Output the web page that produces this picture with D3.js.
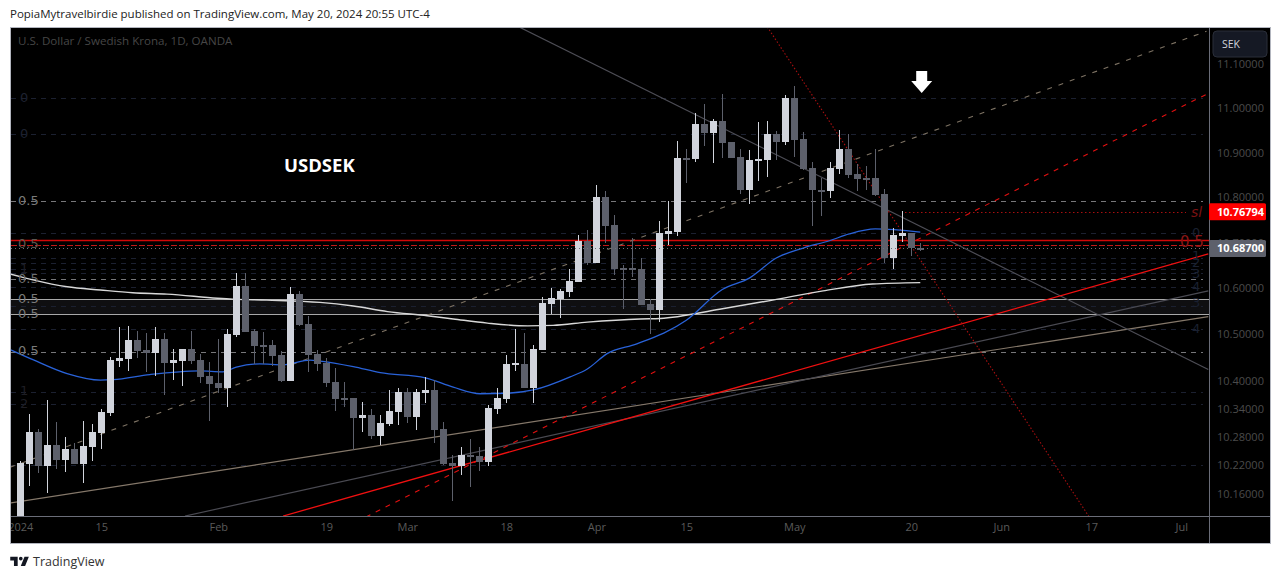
<!DOCTYPE html>
<html>
<head>
<meta charset="utf-8">
<script src="https://cdn.jsdelivr.net/npm/d3@7"></script>
<style>
  html, body { margin: 0; padding: 0; background: #fff; overflow: hidden; }
  svg { display: block; }
  text { font-family: "DejaVu Sans", sans-serif; }
</style>
</head>
<body>
<svg id="viz" width="1281" height="579"></svg>
<script>
// USD/SEK daily candles. index 0 = 2 Jan 2024
const opens = [10.104,10.223,10.291,10.219,10.263,10.232,10.255,10.223,10.259,10.289,10.331,10.442,10.447,10.488,10.466,10.460,10.490,10.438,10.442,10.468,10.445,10.410,10.396,10.385,10.498,10.605,10.507,10.477,10.477,10.455,10.400,10.587,10.522,10.457,10.438,10.398,10.363,10.363,10.321,10.327,10.282,10.308,10.333,10.376,10.323,10.374,10.380,10.297,10.225,10.219,10.242,10.240,10.227,10.340,10.361,10.436,10.436,10.385,10.466,10.566,10.576,10.592,10.614,10.703,10.655,10.801,10.739,10.644,10.644,10.642,10.566,10.553,10.719,10.723,10.888,10.886,10.965,10.944,10.972,10.924,10.890,10.817,10.885,10.884,10.942,10.924,11.023,10.931,10.866,10.817,10.814,10.864,10.908,10.852,10.844,10.844,10.808,10.666,10.714,10.721,10.688];
const highs = [10.230,10.329,10.297,10.359,10.312,10.280,10.268,10.314,10.308,10.340,10.451,10.516,10.518,10.507,10.503,10.516,10.503,10.468,10.468,10.507,10.457,10.440,10.490,10.511,10.633,10.633,10.511,10.505,10.488,10.464,10.603,10.594,10.540,10.466,10.449,10.427,10.398,10.363,10.355,10.340,10.327,10.380,10.385,10.385,10.382,10.408,10.402,10.312,10.242,10.259,10.276,10.259,10.348,10.385,10.455,10.511,10.503,10.477,10.581,10.601,10.598,10.642,10.717,10.728,10.828,10.814,10.761,10.651,10.710,10.666,10.576,10.748,10.792,10.926,10.908,10.990,11.010,10.976,11.032,10.924,10.908,10.906,10.969,10.972,10.949,11.030,11.051,10.947,10.879,10.844,10.879,10.951,10.942,10.875,10.870,10.908,10.819,10.732,10.770,10.721,10.699];
const lows = [10.100,10.177,10.204,10.162,10.213,10.207,10.223,10.183,10.230,10.255,10.325,10.430,10.421,10.449,10.419,10.410,10.370,10.402,10.389,10.436,10.396,10.314,10.374,10.344,10.494,10.505,10.436,10.436,10.432,10.398,10.400,10.518,10.419,10.421,10.387,10.335,10.344,10.253,10.291,10.276,10.263,10.304,10.306,10.310,10.295,10.352,10.268,10.221,10.146,10.200,10.175,10.209,10.219,10.329,10.352,10.421,10.385,10.352,10.466,10.544,10.535,10.581,10.614,10.651,10.655,10.699,10.629,10.555,10.625,10.563,10.500,10.527,10.695,10.714,10.832,10.879,10.915,10.877,10.888,10.888,10.808,10.785,10.837,10.846,10.884,10.917,10.890,10.861,10.737,10.759,10.799,10.852,10.844,10.814,10.817,10.803,10.655,10.642,10.701,10.671,10.682];
const closes = [10.225,10.291,10.219,10.263,10.232,10.255,10.223,10.261,10.291,10.333,10.445,10.449,10.488,10.464,10.460,10.490,10.438,10.445,10.468,10.442,10.408,10.393,10.385,10.500,10.605,10.505,10.475,10.476,10.453,10.400,10.587,10.520,10.455,10.436,10.396,10.361,10.362,10.321,10.327,10.282,10.310,10.335,10.376,10.323,10.376,10.380,10.295,10.223,10.219,10.242,10.241,10.227,10.342,10.363,10.436,10.437,10.385,10.468,10.568,10.579,10.594,10.616,10.703,10.655,10.801,10.737,10.642,10.643,10.643,10.563,10.553,10.721,10.726,10.888,10.887,10.965,10.944,10.972,10.922,10.888,10.817,10.884,10.886,10.942,10.924,11.023,10.929,10.864,10.817,10.816,10.866,10.908,10.850,10.842,10.843,10.805,10.666,10.717,10.721,10.688,10.687];

// moving averages, sampled at candle index
const maSlowIdx = [-1.15,1.4,5.2,8.9,12.5,16.3,21.9,23.6,27.4,33.3,37,40.8,45.2,48.1,51.9,56.4,59.2,63,68.9,71.1,77.7,83.6,89.2,94.7,100];
const maSlowVal = [10.631,10.618,10.603,10.596,10.590,10.587,10.578,10.576,10.574,10.569,10.561,10.549,10.540,10.533,10.524,10.518,10.519,10.526,10.533,10.534,10.554,10.574,10.594,10.609,10.612];
const maFastIdx = [-1.15,1.4,5.2,8.9,10.3,14.4,19.9,22.5,24,26.6,29.2,32.2,33.3,37,40,45,48.1,51.1,54.1,57,61.1,63,65.2,68.5,74,78,81,84,87,89.9,92.1,95,100];
const maFastVal = [10.467,10.445,10.415,10.401,10.402,10.413,10.421,10.419,10.429,10.436,10.434,10.444,10.442,10.430,10.417,10.406,10.386,10.372,10.373,10.380,10.408,10.425,10.458,10.479,10.530,10.597,10.622,10.666,10.688,10.704,10.719,10.730,10.723];

// trend lines: candle index and price at both ends
const trendTan = [[-1.15,10.216],[131.8,11.176]];
const trendTanSolid = [[-1.15,10.141],[132,10.538]];
const trendGray = [[18.3,10.114],[132,10.594]];
const trendRed = [[29.2,10.114],[132,10.675]];
const trendRedDash = [[38.4,10.112],[132,11.034]];
const trendDown = [[55.4,11.186],[132,10.424]];
const trendSteep = [[83,11.186],[118.7,10.114]];

// horizontal levels
const levelsDark = [11.023,10.942,10.721,10.666,10.655,10.642,10.633,10.603,10.561,10.511,10.376,10.350,10.221];
const levelsGray = [10.792,10.620,10.462];
const levelsBand = [10.576,10.543];
const levelRed = 10.705;
const levelRedDash = 10.695;
const lastPrice = 10.687;
const stopPrice = 10.76794;

const priceTicks = [11.1,11.0,10.9,10.8,10.7,10.6,10.5,10.4,10.34,10.28,10.22,10.16];
const dateTicks = [[0,"2024"],[9,"15"],[22,"Feb"],[34,"19"],[43,"Mar"],[54,"18"],[64,"Apr"],[74,"15"],[86,"May"],[99,"20"],[109,"Jun"],[119,"17"],[129,"Jul"]];
const leftLabels = [[11.025,"0","#1e2230"],[10.944,"0","#1e2230"],[10.794,"0.5","#7a7a7a"],[10.697,"0.5","#5c5850"],[10.644,"1","#1e1e24"],[10.622,"0.5","#6e6e6e"],[10.578,"0.5","#7a7a7a"],[10.545,"0.5","#7a7a7a"],[10.464,"0.5","#7a7a7a"],[10.378,"1","#1e1e24"],[10.352,"2","#1e1e24"]];
const rightLabels = [[10.722,"0"],[10.672,"1"],[10.657,"2"],[10.631,"3"],[10.603,"4"],[10.568,"3"],[10.513,"4"]];

const svg = d3.select("#viz");
const pane = { left: 11, right: 1209, top: 28, bottom: 516 };

const x = d3.scaleLinear().domain([0, 129]).range([20.3, 1181.3]);
const y = d3.scaleLog().domain([11, 10.16]).range([108.3, 494]);

const UP = "#d1d4dc", DOWN = "#5d606b";

// page header and frame
svg.append("text").attr("x", 10).attr("y", 18).attr("font-size", 11.5).attr("fill", "#222")
  .style("font-family", "'Open Sans', sans-serif")
  .text("PopiaMytravelbirdie published on TradingView.com, May 20, 2024 20:55 UTC-4");
svg.append("rect").attr("x", 10.5).attr("y", 27.5).attr("width", 1260).attr("height", 516)
  .attr("fill", "#000").attr("stroke", "#b2b5be");

const defs = svg.append("defs");
defs.append("clipPath").attr("id", "paneClip").append("rect")
  .attr("x", pane.left).attr("y", pane.top)
  .attr("width", pane.right - pane.left).attr("height", pane.bottom - pane.top);

const chart = svg.append("g").attr("clip-path", "url(#paneClip)");

// band between the two white levels
chart.append("rect").attr("x", pane.left).attr("width", pane.right - pane.left)
  .attr("y", y(levelsBand[0])).attr("height", y(levelsBand[1]) - y(levelsBand[0]))
  .attr("fill", "#0f0f11");

function hline(price, color, dash, x0, x1, w) {
  chart.append("line").attr("x1", x0).attr("x2", x1)
    .attr("y1", Math.round(y(price)) + 0.5).attr("y2", Math.round(y(price)) + 0.5)
    .attr("stroke", color).attr("stroke-width", w || 1)
    .attr("stroke-dasharray", dash);
}
levelsDark.forEach(p => hline(p, "#1b2030", "5 5", 11, 1203));
levelsGray.forEach(p => hline(p, "#77777a", "5 5", 11, 1203));
levelsBand.forEach(p => hline(p, "#a8a8a8", null, 11, 1209));
hline(levelRed, "#d00808", null, 11, 1209, 1.3);
hline(levelRedDash, "#c01818", "6 2", 11, 1209, 1.2);

// trend lines
const tl = d3.line().x(d => x(d[0])).y(d => y(d[1]));
function trend(pts, color, w, dash) {
  chart.append("path").attr("d", tl(pts)).attr("fill", "none")
    .attr("stroke", color).attr("stroke-width", w).attr("stroke-dasharray", dash);
}
trend(trendTanSolid, "#85786a", 1.2);
trend(trendGray, "#4a4a52", 1.2);
trend(trendDown, "#4d4d55", 1.2);
trend(trendTan, "#7d7263", 1.1, "5 7");
trend(trendRedDash, "#e01010", 1.1, "5 6");
trend(trendRed, "#f01010", 1.3);
trend(trendSteep, "#a80f0f", 1.1, "1.5 2");

// stop line
chart.append("line").attr("x1", 905).attr("x2", 1186)
  .attr("y1", Math.round(y(stopPrice)) + 0.5).attr("y2", Math.round(y(stopPrice)) + 0.5)
  .attr("stroke", "#a80f0f").attr("stroke-dasharray", "1.5 2.5");

// moving averages
const maLine = d3.line().x(d => x(d[0])).y(d => y(d[1])).curve(d3.curveMonotoneX);
chart.append("path").attr("d", maLine(maSlowIdx.map((d, i) => [d, maSlowVal[i]])))
  .attr("fill", "none").attr("stroke", "#d8d8d8").attr("stroke-width", 1.4);
chart.append("path").attr("d", maLine(maFastIdx.map((d, i) => [d, maFastVal[i]])))
  .attr("fill", "none").attr("stroke", "#2962d8").attr("stroke-width", 1.3);

// candles
const candles = opens.map((o, i) => ({ i, o, h: highs[i], l: lows[i], c: closes[i] }));
const cg = chart.append("g").attr("shape-rendering", "crispEdges");
const candle = cg.selectAll("g").data(candles).join("g")
  .attr("fill", d => d.c >= d.o ? UP : DOWN);
candle.append("rect")
  .attr("x", d => Math.floor(x(d.i)))
  .attr("width", 1)
  .attr("y", d => y(d.h))
  .attr("height", d => y(d.l) - y(d.h));
candle.append("rect")
  .attr("x", d => Math.floor(x(d.i)) - 3)
  .attr("width", 7)
  .attr("y", d => y(Math.max(d.o, d.c)))
  .attr("height", d => Math.max(2, Math.abs(y(d.o) - y(d.c))));

// last price line
hline(lastPrice, "#6f7079", "1 3", 11, 1209);

// left level labels
chart.selectAll("text.left").data(leftLabels).join("text").attr("class", "left")
  .attr("x", d => d[1] === "0.5" ? 18 : 20)
  .attr("y", d => y(d[0]) + 4.5)
  .attr("font-size", 13)
  .attr("fill", d => d[2]).text(d => d[1]);

// right level labels
chart.selectAll("text.right").data(rightLabels).join("text").attr("class", "right")
  .attr("x", 1192).attr("y", d => y(d[0]) + 4.5)
  .attr("font-size", 13).attr("fill", "#1a2030").text(d => d[1]);
chart.append("text").attr("x", 1180).attr("y", 247).attr("font-size", 15)
  .attr("fill", "#8c1616").text("0.5");
chart.append("text").attr("x", 1191).attr("y", 217).attr("font-size", 14)
  .attr("font-style", "italic").attr("fill", "#7a1212").text("sl");

// annotations
chart.append("text").attr("x", 284).attr("y", 172).attr("font-size", 18.5)
  .attr("font-weight", 700).attr("fill", "#fff")
  .style("font-family", "'Open Sans', sans-serif").text("USDSEK");
svg.append("text").attr("x", 18).attr("y", 45).attr("font-size", 11.6)
  .attr("fill", "#464646").style("font-family", "'Open Sans', sans-serif")
  .text("U.S. Dollar / Swedish Krona, 1D, OANDA");

// arrow above last candle
const arrowX = x(100) + 1.4;
svg.append("path")
  .attr("d", `M${arrowX - 5.5},71 h11 v10 h5 l-10.5,12 l-10.5,-12 h5 z`)
  .attr("fill", "#fff");

// axes separators
svg.append("line").attr("x1", 1209.5).attr("x2", 1209.5).attr("y1", 28).attr("y2", 543)
  .attr("stroke", "#6a6d78");
svg.append("line").attr("x1", 11).attr("x2", 1270).attr("y1", 516.5).attr("y2", 516.5)
  .attr("stroke", "#6a6d78");

// price axis
const axisFont = "'Open Sans', sans-serif";
const yAxis = d3.axisRight(y).tickValues(priceTicks).tickSize(0).tickPadding(0)
  .tickFormat(d3.format(".5f"));
const yg = svg.append("g").attr("transform", "translate(1217,0)").call(yAxis);
yg.select(".domain").remove();
yg.selectAll("text").attr("fill", "#4b4b4b").attr("font-size", 11).style("font-family", axisFont);

// time axis
const xAxis = d3.axisBottom(x).tickValues(dateTicks.map(d => d[0])).tickSize(0).tickPadding(0)
  .tickFormat(d => dateTicks.find(t => t[0] === d)[1]);
const xClip = defs.append("clipPath").attr("id", "timeClip");
xClip.append("rect").attr("x", 11).attr("y", 516).attr("width", 1198).attr("height", 27);
const xg = svg.append("g").attr("clip-path", "url(#timeClip)")
  .append("g").attr("transform", "translate(0,523)").call(xAxis);
xg.select(".domain").remove();
xg.selectAll("text").attr("fill", "#5a5a5a").attr("font-size", 11).style("font-family", axisFont);

// price tags
function tag(price, label, color, h, top) {
  svg.append("rect").attr("x", 1209).attr("y", top).attr("width", 57).attr("height", h)
    .attr("rx", 1.5).attr("fill", color);
  svg.append("text").attr("x", 1217).attr("y", top + h / 2 + 4).attr("font-size", 11)
    .attr("font-weight", 700).attr("fill", "#fff").style("font-family", axisFont).text(label);
}
tag(stopPrice, d3.format(".5f")(stopPrice), "#ff0000", 17, y(stopPrice) - 8.5);
tag(lastPrice, "10.68700", "#5d606b", 17, y(lastPrice) - 8.5);

// currency button
svg.append("rect").attr("x", 1213).attr("y", 31).attr("width", 54).attr("height", 26)
  .attr("rx", 4).attr("fill", "#151924").attr("stroke", "#2a2e39");
svg.append("text").attr("x", 1222).attr("y", 48).attr("font-size", 10.5)
  .attr("fill", "#d1d4dc").style("font-family", axisFont).text("SEK");

// footer logo
svg.append("path").attr("transform", "translate(9,553) scale(0.62)")
  .attr("d", "M14 6H2v6h6v9h6V6zm12 15h-7l6-15h7l-6 15zm-7-9a3 3 0 1 0 0-6 3 3 0 0 0 0 6z")
  .attr("fill", "#131722");
svg.append("text").attr("x", 33).attr("y", 566).attr("font-size", 12.5).attr("fill", "#333")
  .style("font-family", axisFont).text("TradingView");
</script>
</body>
</html>
